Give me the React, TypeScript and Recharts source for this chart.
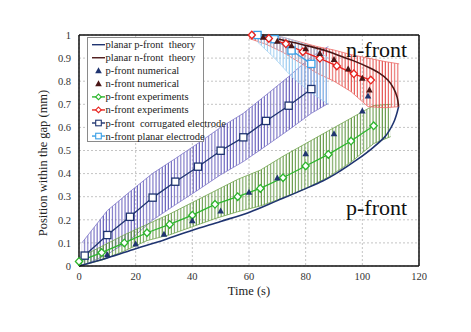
import React from "react"
import { Area, CartesianGrid, ComposedChart, Line, ReferenceLine, XAxis, YAxis } from "recharts"

const SERIF = '"Liberation Serif", "Times New Roman", serif'

// axis ticks
const xTicks = [0, 20, 40, 60, 80, 100, 120]
const yTicks = [0, 0.1, 0.2, 0.3, 0.4, 0.5, 0.6, 0.7, 0.8, 0.9, 1]

// planar theory curves
const tTheoryP = [0, 10, 20, 30, 40, 50, 60, 70, 80, 86, 92, 98, 104, 108, 111, 112.8]
const yTheoryP = [0, 0.035, 0.075, 0.113, 0.155, 0.193, 0.232, 0.283, 0.335, 0.368, 0.41, 0.459, 0.515, 0.56, 0.62, 0.69]
const tTheoryN = [112.8, 112.3, 111, 109, 106, 102.5, 97, 91, 85, 79, 73, 67, 62]
const yTheoryN = [0.69, 0.73, 0.77, 0.805, 0.835, 0.858, 0.888, 0.915, 0.94, 0.958, 0.975, 0.99, 1]

// numerical
const tNumP = [10, 20, 30, 40, 50, 60, 70, 80, 90, 100, 102]
const yNumP = [0.048, 0.095, 0.137, 0.195, 0.238, 0.319, 0.38, 0.485, 0.572, 0.671, 0.735]
const tNumN = [65, 70, 75, 80, 85, 90, 95, 100, 102.5]
const yNumN = [0.99, 0.973, 0.953, 0.94, 0.92, 0.893, 0.852, 0.812, 0.762]

// experiments
const tExpP = [0, 8, 16, 24, 32, 40, 48, 56, 64, 72, 80, 88, 96, 104]
const yExpP = [0.02, 0.058, 0.1, 0.144, 0.18, 0.22, 0.267, 0.3, 0.336, 0.382, 0.433, 0.483, 0.541, 0.607]
const bandExpPT = [0, 8, 16, 24, 32, 40, 48, 56, 64, 72, 80, 88, 96, 104, 110]
const bandExpPLow = [0, 0.025, 0.065, 0.11, 0.135, 0.17, 0.205, 0.235, 0.26, 0.295, 0.335, 0.385, 0.45, 0.53, 0.56]
const bandExpPHigh = [0.035, 0.085, 0.135, 0.18, 0.225, 0.275, 0.325, 0.375, 0.415, 0.475, 0.53, 0.585, 0.64, 0.695, 0.7]

const tExpN = [61, 67, 73, 79, 85, 91, 97, 103]
const yExpN = [1, 0.985, 0.962, 0.928, 0.899, 0.866, 0.832, 0.805]
const bandExpNT = [60, 66, 72, 78, 84, 90, 96, 102, 108, 113]
const bandExpNLow = [0.985, 0.96, 0.925, 0.88, 0.835, 0.8, 0.755, 0.69, 0.685, 0.69]
const bandExpNHigh = [1, 1, 0.99, 0.97, 0.95, 0.935, 0.915, 0.9, 0.885, 0.875]

// electrodes
const tCorrP = [2, 10, 18, 26, 34, 42, 50, 58, 66, 74, 82]
const yCorrP = [0.045, 0.134, 0.213, 0.296, 0.365, 0.43, 0.499, 0.557, 0.628, 0.694, 0.766]
const bandCorrT = [1, 10, 18, 26, 34, 42, 50, 58, 66, 74, 82, 88]
const bandCorrLow = [0, 0.05, 0.113, 0.199, 0.265, 0.329, 0.395, 0.452, 0.52, 0.589, 0.661, 0.704]
const bandCorrHigh = [0.1, 0.24, 0.322, 0.401, 0.465, 0.531, 0.6, 0.661, 0.74, 0.82, 0.906, 0.95]

const tPlanN = [63, 69, 75, 82]
const yPlanN = [1, 0.982, 0.933, 0.875]
const bandPlanT = [63, 69, 75, 82, 88]
const bandPlanLow = [0.97, 0.9, 0.82, 0.75, 0.7]
const bandPlanHigh = [1, 1, 0.98, 0.95, 0.9]

const pts = (ts: number[], ys: number[]) => ts.map((t, i) => ({ t, y: ys[i] }))
const band = (ts: number[], lo: number[], hi: number[]) => ts.map((t, i) => ({ t, range: [lo[i], hi[i]] }))

const NAVY = "#1f3470"
const MAROON = "#4a1616"
const GREEN = "#2cb52c"
const RED = "#e8231f"
const LIGHTBLUE = "#3a9fe6"

const diamond = (color: string) => (p: any) => (
  <path
    key={`dm-${p.index}`}
    d={`M${p.cx},${p.cy - 3.8}L${p.cx + 3.6},${p.cy}L${p.cx},${p.cy + 3.8}L${p.cx - 3.6},${p.cy}Z`}
    fill="#fff"
    stroke={color}
    strokeWidth={1.3}
  />
)

const square = (color: string) => (p: any) => (
  <rect key={`sq-${p.index}`} x={p.cx - 3.6} y={p.cy - 3.6} width={7.2} height={7.2} fill="#fff" stroke={color} strokeWidth={1.3} />
)

const triangle = (color: string) => (p: any) => (
  <path
    key={`tr-${p.index}`}
    d={`M${p.cx},${p.cy - 3.6}L${p.cx + 3.3},${p.cy + 2.4}L${p.cx - 3.3},${p.cy + 2.4}Z`}
    fill={color}
  />
)

const legendRows = [
  { label: "planar p-front  theory", kind: "line", color: NAVY },
  { label: "planar n-front  theory", kind: "line", color: MAROON },
  { label: "p-front numerical", kind: "tri", color: NAVY },
  { label: "n-front numerical", kind: "tri", color: MAROON },
  { label: "p-front experiments", kind: "diamond", color: GREEN },
  { label: "n-front experiments", kind: "diamond", color: RED },
  { label: "p-front  corrugated electrode", kind: "square", color: NAVY },
  { label: "n-front planar electrode", kind: "square", color: LIGHTBLUE },
]

function LegendBox() {
  return (
    <g>
      <rect x={87.5} y={37.5} width={116} height={104} fill="#fff" stroke="#8a8a8a" />
      {legendRows.map((r, i) => {
        const cy = 44.7 + i * 13.05
        return (
          <g key={r.label}>
            {r.kind !== "tri" && <line x1={92} x2={105} y1={cy} y2={cy} stroke={r.color} strokeWidth={1.4} />}
            {r.kind === "tri" && triangle(r.color)({ cx: 98.5, cy, index: i })}
            {r.kind === "diamond" && (
              <path d={`M98.5,${cy - 2.8}L101.3,${cy}L98.5,${cy + 2.8}L95.7,${cy}Z`} fill="#fff" stroke={r.color} strokeWidth={1.1} />
            )}
            {r.kind === "square" && <rect x={95.7} y={cy - 2.8} width={5.6} height={5.6} fill="#fff" stroke={r.color} strokeWidth={1.1} />}
            <text x={105.5} y={cy} dominantBaseline="central" fontSize={10.5} fill="#222" fontFamily={SERIF} style={{ whiteSpace: "pre" }}>
              {r.label}
            </text>
          </g>
        )
      })}
    </g>
  )
}

const barPattern = (id: string, color: string) => (
  <pattern id={id} width={3.1} height={6} patternUnits="userSpaceOnUse">
    <line x1={1} y1={0} x2={1} y2={6} stroke={color} strokeWidth={1} />
  </pattern>
)

export default function App() {
  const tickStyle = { fontSize: 10.5, fill: "#333", fontFamily: SERIF }
  return (
    <div style={{ position: "absolute", left: 0, top: 0, width: 471, height: 332, background: "#fff" }}>
      <ComposedChart width={471} height={332} margin={{ top: 35, right: 52, bottom: 0, left: 0 }}>
        <defs>
          {barPattern("barsCorr", "#5e56b8")}
          {barPattern("barsGreen", "#5a9238")}
          {barPattern("barsRed", "#e44a46")}
          {barPattern("barsPlan", "#92c6ee")}
        </defs>
        <CartesianGrid strokeDasharray="2 2" stroke="#c4c4c4" />
        <XAxis
          type="number"
          dataKey="t"
          domain={[0, 120]}
          ticks={xTicks}
          height={66}
          axisLine={{ stroke: "#111", strokeWidth: 1.5 }}
          tickLine={false}
          tickMargin={1}
          tick={tickStyle}
        />
        <YAxis
          type="number"
          domain={[0, 1]}
          ticks={yTicks}
          width={79}
          axisLine={{ stroke: "#111", strokeWidth: 1.5 }}
          tickLine={false}
          tick={tickStyle}
        />
        <ReferenceLine y={1} stroke="#111" strokeWidth={1.5} />
        <ReferenceLine x={120} stroke="#111" strokeWidth={1.5} />

        <Area data={band(bandCorrT, bandCorrLow, bandCorrHigh)} dataKey="range" type="linear" stroke="#7d76c8" strokeWidth={0.8} fill="url(#barsCorr)" fillOpacity={1} isAnimationActive={false} activeDot={false} />
        <Area data={band(bandExpPT, bandExpPLow, bandExpPHigh)} dataKey="range" type="linear" stroke="#6fa24a" strokeWidth={0.8} fill="url(#barsGreen)" fillOpacity={1} isAnimationActive={false} activeDot={false} />
        <Area data={band(bandExpNT, bandExpNLow, bandExpNHigh)} dataKey="range" type="linear" stroke="#ec6b67" strokeWidth={0.8} fill="url(#barsRed)" fillOpacity={1} isAnimationActive={false} activeDot={false} />
        <Area data={band(bandPlanT, bandPlanLow, bandPlanHigh)} dataKey="range" type="linear" stroke="#a8d3f2" strokeWidth={0.8} fill="url(#barsPlan)" fillOpacity={1} isAnimationActive={false} activeDot={false} />

        <Line data={pts(tTheoryP, yTheoryP)} dataKey="y" type="monotoneY" stroke={NAVY} strokeWidth={1.6} dot={false} activeDot={false} isAnimationActive={false} />
        <Line data={pts(tTheoryN, yTheoryN)} dataKey="y" type="monotoneY" stroke={MAROON} strokeWidth={1.6} dot={false} activeDot={false} isAnimationActive={false} />

        <Line data={pts(tCorrP, yCorrP)} dataKey="y" type="linear" stroke={NAVY} strokeWidth={1.3} dot={square(NAVY)} activeDot={false} isAnimationActive={false} />
        <Line data={pts(tPlanN, yPlanN)} dataKey="y" type="linear" stroke={LIGHTBLUE} strokeWidth={1.3} dot={square(LIGHTBLUE)} activeDot={false} isAnimationActive={false} />
        <Line data={pts(tExpP, yExpP)} dataKey="y" type="linear" stroke={GREEN} strokeWidth={1.3} dot={diamond(GREEN)} activeDot={false} isAnimationActive={false} />
        <Line data={pts(tExpN, yExpN)} dataKey="y" type="linear" stroke={RED} strokeWidth={1.3} dot={diamond(RED)} activeDot={false} isAnimationActive={false} />

        <Line data={pts(tNumP, yNumP)} dataKey="y" stroke="none" dot={triangle(NAVY)} activeDot={false} isAnimationActive={false} />
        <Line data={pts(tNumN, yNumN)} dataKey="y" stroke="none" dot={triangle(MAROON)} activeDot={false} isAnimationActive={false} />
      </ComposedChart>
      <svg width={471} height={332} style={{ position: "absolute", left: 0, top: 0, pointerEvents: "none" }}>
        <LegendBox />
        <text x={346} y={57} fontSize={22} fill="#111" fontFamily={SERIF}>n-front</text>
        <text x={346} y={215} fontSize={22} fill="#111" fontFamily={SERIF}>p-front</text>
        <text x={249} y={295} fontSize={12.5} fill="#222" fontFamily={SERIF} textAnchor="middle">Time (s)</text>
        <text
          x={0}
          y={0}
          transform="translate(43,163) rotate(-90)"
          fontSize={12.5}
          fill="#222"
          fontFamily={SERIF}
          textAnchor="middle"
          dominantBaseline="central"
        >
          Position within the gap (mm)
        </text>
      </svg>
    </div>
  )
}
